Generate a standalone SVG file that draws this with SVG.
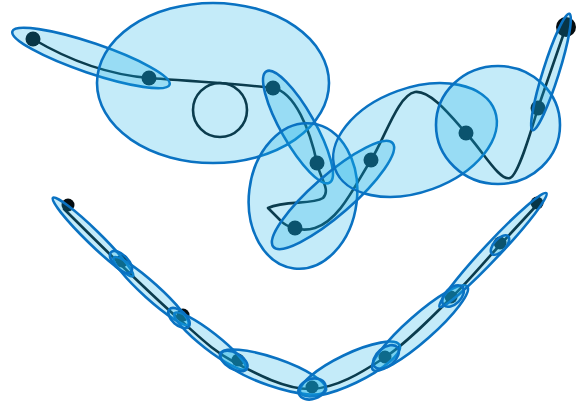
<svg xmlns="http://www.w3.org/2000/svg" width="576" height="406" viewBox="0 0 576 406">
<style>
.curve{fill:none;stroke:#08161b;stroke-width:2.6;stroke-linejoin:round;stroke-linecap:round}
.dot{fill:#050d10}
.ell{fill:rgb(19,175,231);fill-opacity:0.25;stroke:#0a72c2;stroke-width:2.6}
</style>
<rect width="576" height="406" fill="#fff"/>
<g id="connectors">
<path class="curve" d="M33,39 C60,55 100,74 149,78 C190,81 240,84 273,88 C295,92 310,130 317,163 C320,178 331,190 323,198 C312,205 285,200 268,208 L280,220 C287,228 302,232 315,228 C340,220 355,185 371,160 C385,138 398,95 415,92 C430,90 450,115 466,133 C482,150 500,182 510,178 C518,175 530,135 538,108 L566,27"/>
<circle class="curve" cx="220" cy="110" r="27"/>
<path class="curve" d="M64,209 C73.2,218 99.8,244.7 119,263 C138.2,281.3 159.8,302.5 179,319 C198.2,335.5 212,350.3 234,362 C256,373.7 286,389.7 311,389 C336,388.3 360.7,373.2 384,358 C407.3,342.8 431.8,316.7 451,298 C470.2,279.3 484.8,261.3 499,246 C513.2,230.7 529.8,212.7 536,206"/>
</g>
<g id="dots">
<circle class="dot" cx="33" cy="39" r="7.5"/>
<circle class="dot" cx="149" cy="78" r="7.5"/>
<circle class="dot" cx="273" cy="88" r="7.5"/>
<circle class="dot" cx="317" cy="163" r="7.5"/>
<circle class="dot" cx="295" cy="228" r="7.5"/>
<circle class="dot" cx="371" cy="160" r="7.5"/>
<circle class="dot" cx="466" cy="133" r="7.5"/>
<circle class="dot" cx="538" cy="108" r="7.5"/>
<circle class="dot" cx="566" cy="27" r="10"/>
<circle class="dot" cx="68" cy="205" r="6.5"/>
<circle class="dot" cx="122" cy="261" r="6.5"/>
<circle class="dot" cx="183" cy="315" r="6.5"/>
<circle class="dot" cx="238" cy="360" r="6.5"/>
<circle class="dot" cx="312" cy="387" r="6.5"/>
<circle class="dot" cx="385" cy="357" r="6.5"/>
<circle class="dot" cx="451" cy="297" r="6.5"/>
<circle class="dot" cx="500" cy="243" r="6.5"/>
<circle class="dot" cx="537" cy="203" r="6.5"/>
</g>
<g id="top-ellipses">
<ellipse id="t1" class="ell" cx="91" cy="58" rx="83" ry="15" transform="rotate(18.7 91 58)"/>
<ellipse id="t2" class="ell" cx="213" cy="83" rx="116" ry="80"/>
<ellipse id="t3" class="ell" cx="298" cy="127" rx="64" ry="17" transform="rotate(60.4 298 127)"/>
<ellipse id="t4" class="ell" cx="303" cy="196" rx="54" ry="73" transform="rotate(7 303 196)"/>
<ellipse id="t5" class="ell" cx="333" cy="195" rx="79" ry="20" transform="rotate(-41 333 195)"/>
<ellipse id="t6" class="ell" cx="415" cy="140" rx="85" ry="52" transform="rotate(-20 415 140)"/>
<ellipse id="t7" class="ell" cx="498" cy="125" rx="62" ry="59"/>
<ellipse id="t8" class="ell" cx="551" cy="72" rx="61" ry="8" transform="rotate(-72.5 551 72)"/>
</g>
<g id="bottom-ellipses">
<ellipse id="b1" class="ell" cx="93" cy="237" rx="56" ry="7" transform="rotate(44.3 93 237)"/>
<ellipse id="b2" class="ell" cx="151" cy="291" rx="50" ry="8" transform="rotate(42 151 291)"/>
<ellipse id="b3" class="ell" cx="210" cy="341" rx="45" ry="8.5" transform="rotate(38 210 341)"/>
<ellipse id="b4" class="ell" cx="273" cy="372" rx="56" ry="14" transform="rotate(19 273 372)"/>
<ellipse id="b5" class="ell" cx="350" cy="369" rx="55" ry="15" transform="rotate(-25.6 350 369)"/>
<ellipse id="b6" class="ell" cx="420" cy="328" rx="63" ry="13" transform="rotate(-41.4 420 328)"/>
<ellipse id="b7" class="ell" cx="493" cy="250" rx="78" ry="8" transform="rotate(-46.8 493 250)"/>
<ellipse id="s2" class="ell" cx="121" cy="262" rx="14" ry="7" transform="rotate(45 121 262)"/>
<ellipse id="s3" class="ell" cx="179" cy="318" rx="13" ry="7" transform="rotate(42 179 318)"/>
<ellipse id="s4" class="ell" cx="234" cy="361" rx="15" ry="8" transform="rotate(30 234 361)"/>
<ellipse id="s5" class="ell" cx="312" cy="389" rx="14" ry="10" transform="rotate(-20 312 389)"/>
<ellipse id="s6" class="ell" cx="386" cy="357" rx="15" ry="9" transform="rotate(-40 386 357)"/>
<ellipse id="s7" class="ell" cx="453" cy="296" rx="13" ry="8" transform="rotate(-45 453 296)"/>
<ellipse id="s8" class="ell" cx="500" cy="245" rx="12" ry="6" transform="rotate(-48 500 245)"/>
</g>
</svg>
